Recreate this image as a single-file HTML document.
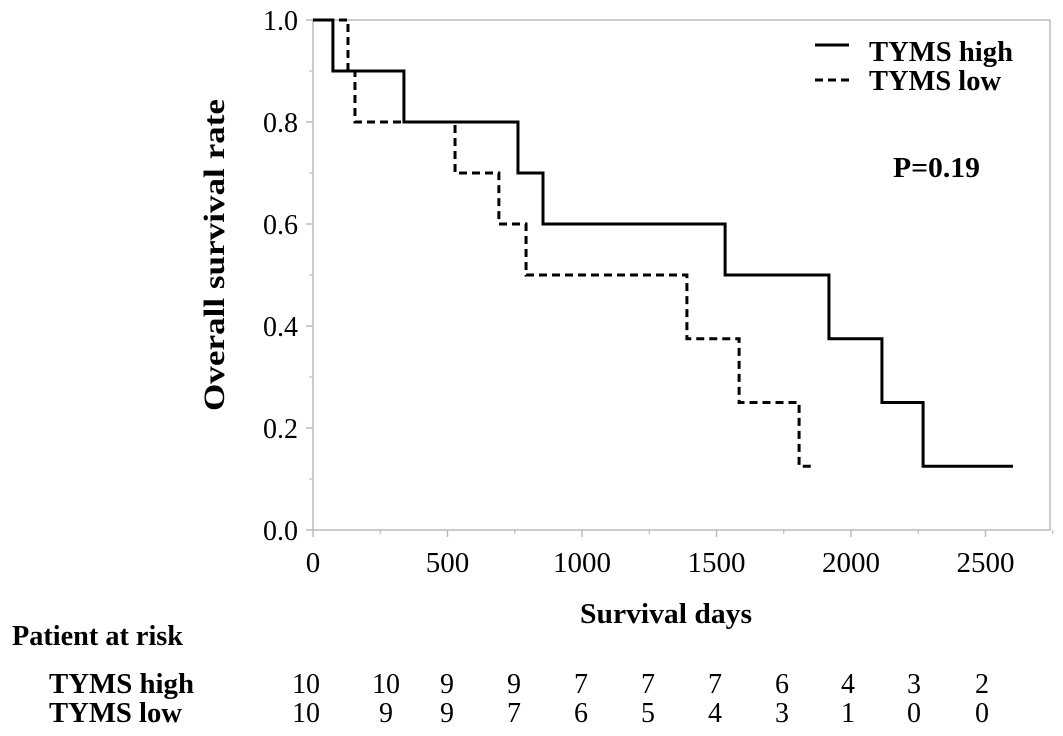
<!DOCTYPE html>
<html><head><meta charset="utf-8"><style>
body{margin:0;background:#fff;}
svg{display:block;font-family:"Liberation Serif",serif;}
</style></head><body>
<svg id="chart" width="1063" height="736">
<rect x="313" y="20" width="737" height="510" fill="none" stroke="#bbb" stroke-width="1.5"/>
<g id="ticks"></g>
<g id="series"></g>
<text x="224" y="255" transform="rotate(-90 224 255)" text-anchor="middle" font-size="30" font-weight="bold" textLength="312" lengthAdjust="spacingAndGlyphs">Overall survival rate</text>
<text x="580" y="623" font-size="29" font-weight="bold" textLength="172" lengthAdjust="spacingAndGlyphs">Survival days</text>
<g>
<line x1="815" y1="45" x2="849" y2="45" stroke="#000" stroke-width="3"/>
<text x="869" y="61" font-size="29" font-weight="bold" textLength="144" lengthAdjust="spacingAndGlyphs">TYMS high</text>
<line x1="815" y1="80" x2="849" y2="80" stroke="#000" stroke-width="3" stroke-dasharray="8,5"/>
<text x="869" y="90" font-size="29" font-weight="bold" textLength="132" lengthAdjust="spacingAndGlyphs">TYMS low</text>
</g>
<text x="893" y="177" font-size="29" font-weight="bold" textLength="87" lengthAdjust="spacingAndGlyphs">P=0.19</text>
<text x="12" y="645" font-size="28" font-weight="bold" textLength="171" lengthAdjust="spacingAndGlyphs">Patient at risk</text>
<text x="49" y="693" font-size="29" font-weight="bold" textLength="145" lengthAdjust="spacingAndGlyphs">TYMS high</text>
<text x="49" y="722" font-size="29" font-weight="bold" textLength="133" lengthAdjust="spacingAndGlyphs">TYMS low</text>
<g id="risk"></g>
</svg>
<script>
const highTimes=[0,74,338,762,855,1532,1918,2115,2268,2602];
const highSurv=[1.0,0.9,0.8,0.7,0.6,0.5,0.375,0.25,0.125,0.125];
const lowTimes=[0,130,156,528,691,792,1390,1584,1807,1859];
const lowSurv=[1.0,0.9,0.8,0.7,0.6,0.5,0.375,0.25,0.125,0.125];
const xTicks=[0,500,1000,1500,2000,2500];
const yTicks=[0.0,0.2,0.4,0.6,0.8,1.0];
const riskHigh=[10,10,9,9,7,7,7,6,4,3,2];
const riskLow=[10,9,9,7,6,5,4,3,1,0,0];
const riskCols=[306,386,447,514,581,648,715,782,848,914,982];
const NS="http://www.w3.org/2000/svg";
const X=d=>313+d*134.5/500, Y=v=>530-v*510;
function mk(tag,attrs,parent){const e=document.createElementNS(NS,tag);for(const k in attrs)e.setAttribute(k,attrs[k]);parent.appendChild(e);return e;}
const tk=document.getElementById('ticks');
xTicks.forEach(t=>{
 const l=mk('line',{x1:X(t),x2:X(t),y1:530,y2:537,stroke:'#bbb','stroke-width':1.5},tk);
 
 
 const m=mk('line',{x1:X(t+250),x2:X(t+250),y1:530,y2:534,stroke:'#bbb','stroke-width':1.2},tk);
 
 
 const s=mk('text',{x:X(t),y:572,'text-anchor':'middle','font-size':29},tk);s.textContent=t;
 
 
});
yTicks.forEach(v=>{
 const l=mk('line',{x1:306,x2:313,y1:Y(v),y2:Y(v),stroke:'#bbb','stroke-width':1.5},tk);
 
 
 if(v<1){const m=mk('line',{x1:309,x2:313,y1:Y(v+0.1),y2:Y(v+0.1),stroke:'#bbb','stroke-width':1.2},tk);
 
 }
 const s=mk('text',{x:298,y:Y(v)+10,'text-anchor':'end','font-size':28},tk);s.textContent=v.toFixed(1);
 
 
});
function stepPath(ts,ss){let d=`M${X(ts[0])},${Y(ss[0])}`;for(let i=1;i<ts.length;i++){d+=` H${X(ts[i])} V${Y(ss[i])}`;}return d;}
const sg=document.getElementById('series');
const ph=mk('path',{d:stepPath(highTimes,highSurv),fill:'none',stroke:'#000','stroke-width':3},sg);


const pl=mk('path',{d:stepPath(lowTimes,lowSurv),fill:'none',stroke:'#000','stroke-width':3,'stroke-dasharray':'8,5'},sg);


const rg=document.getElementById('risk');
riskHigh.forEach((n,i)=>{const s=mk('text',{x:riskCols[i],y:693,'text-anchor':'middle','font-size':28},rg);s.textContent=n;
 
 });
riskLow.forEach((n,i)=>{const s=mk('text',{x:riskCols[i],y:722,'text-anchor':'middle','font-size':28},rg);s.textContent=n;
 
 });
</script>
</body></html>
